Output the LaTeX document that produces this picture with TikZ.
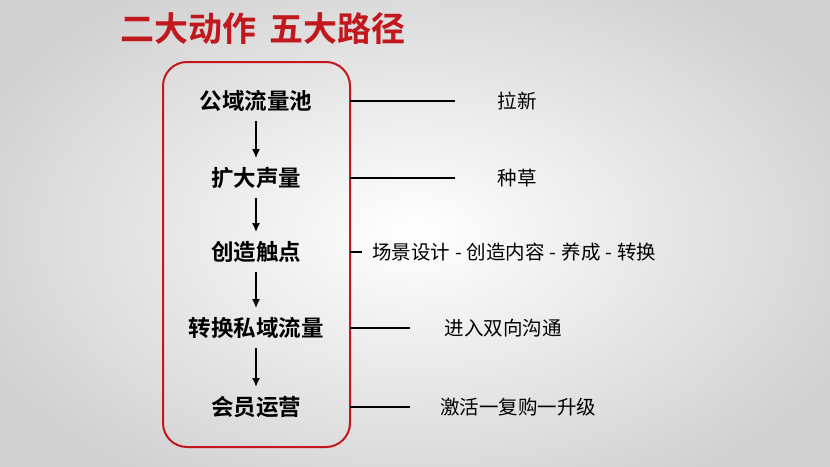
\documentclass[tikz,border=0pt]{standalone}
\usepackage{fontspec}
\newfontfamily\cjk{Noto Sans CJK SC}
\newfontfamily\cjkb{Noto Sans CJK SC Bold}
\definecolor{myred}{RGB}{192,24,28}
\usetikzlibrary{arrows.meta}
\begin{document}
\begin{tikzpicture}[x=1pt,y=-1pt,
  lft/.style={font=\cjkb\fontsize{22.5}{26}\selectfont, inner sep=0pt},
  rgt/.style={font=\cjk\fontsize{19.5}{23}\selectfont, inner sep=0pt},
  arr/.style={-{Latex[length=9pt,width=8pt]}, line width=2pt},
  ln/.style={line width=2pt}]
\useasboundingbox (0,0) rectangle (830,466);
\shade[inner color=white, outer color=black!18] (-60,-60) rectangle (890,526);
\node[font=\cjkb\fontsize{34}{37}\selectfont, text=myred, anchor=west, inner sep=0pt] (title) at (120,29) {二大动作\hspace{0.4em}五大路径};
\draw[myred, line width=2pt, rounded corners=24pt] (163,62) rectangle (350,447);
\node[lft] (a) at (256,101) {公域流量池};
\node[lft] (b) at (256,178) {扩大声量};
\node[lft] (c) at (256,252) {创造触点};
\node[lft] (d) at (256,328) {转换私域流量};
\node[lft] (e) at (256,407) {会员运营};
\foreach \p/\q in {a/b,b/c,c/d,d/e} \draw[arr] ([yshift=-9pt]\p.south) -- ([yshift=9pt]\q.north);
\node[rgt] (ra) at (517,101) {拉新};
\node[rgt] (rb) at (517,178) {种草};
\node[rgt, anchor=west] (rc) at (372,252) {场景设计\hspace{5pt}-\hspace{5pt}创造内容\hspace{5pt}-\hspace{5pt}养成\hspace{5pt}-\hspace{5pt}转换};
\node[rgt] (rd) at (503,328) {进入双向沟通};
\node[rgt] (re) at (518,407) {激活一复购一升级};
\coordinate (la) at (350,101); \coordinate (lb) at (350,178); \coordinate (lc) at (350,252);
\coordinate (ld) at (350,328); \coordinate (le) at (350,407);
\draw[ln] (la) -- (455,101);
\draw[ln] (lb) -- (455,178);
\draw[ln] (lc) -- (362,252);
\draw[ln] (ld) -- (410,328);
\draw[ln] (le) -- (410,407);
\end{tikzpicture}
\end{document}
